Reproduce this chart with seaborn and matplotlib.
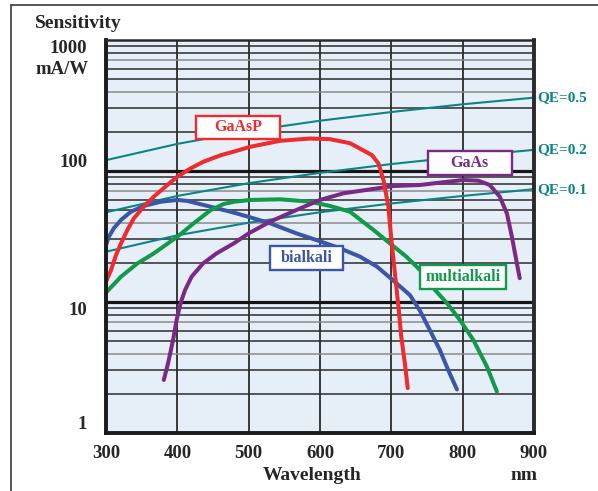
import numpy as np
import pandas as pd
import matplotlib
matplotlib.use("Agg")
import matplotlib.pyplot as plt
import seaborn as sns
from matplotlib.patches import Rectangle
from matplotlib.lines import Line2D
from matplotlib.ticker import NullLocator

# ---- spectral sensitivity curves (wavelength in nm, sensitivity in mA/W) ----
gaasp_wl = [300, 307, 314, 321, 330, 339, 353, 367, 386, 400, 419, 437, 461, 480, 502, 544, 586,
            614, 642, 651, 673, 682, 689, 696, 700, 705, 710, 714, 719, 723]
gaasp_s = [14.3, 17.5, 22.8, 28, 35.5, 43.5, 53.4, 63.7, 78.2, 90.5, 105, 118, 132, 141, 153, 170, 177,
           175, 163, 153.5, 132, 114, 85, 53, 30, 16.6, 9.2, 5.4, 3.4, 2.2]

bialkali_wl = [300, 304, 311, 321, 335, 353, 377, 400, 414, 437, 461, 480, 502, 530, 567, 595, 628,
               656, 680, 702, 726, 740, 754, 768, 780, 792]
bialkali_s = [27.2, 31.5, 36.6, 42.3, 48.9, 54.1, 58.3, 60.1, 59.1, 55, 51, 48, 44.3, 39.9, 33.4, 29.7, 25.7,
              22.2, 18.6, 14.7, 11.3, 8.6, 6.1, 4.3, 3.0, 2.15]

multialkali_wl = [300, 321, 344, 367, 400, 423, 447, 465, 480, 502, 544, 586, 614, 642, 651, 675, 698,
                  721, 740, 761, 778, 796, 815, 834, 848]
multialkali_s = [11.8, 15.6, 19.7, 23.5, 31.5, 39.9, 50.4, 56, 58.3, 60.1, 60.8, 58.3, 54.1, 48.9, 44.8, 35.5, 28,
                 22.2, 17.6, 12.4, 9.8, 7.3, 5.13, 3.21, 2.07]

gaas_wl = [381, 387, 394, 399, 405, 411, 420, 436, 455, 479, 500, 530, 567, 600, 633, 703, 740, 768,
           801, 822, 838, 852, 862, 869, 876, 880]
gaas_s = [2.54, 3.4, 5.13, 7.3, 10, 12.4, 15.6, 19.7, 23.5, 28, 33.4, 41, 50.4, 60.1, 67.6, 76.8, 78.2, 81.5,
          85.4, 84.3, 78.2, 63.7, 47.5, 31.5, 19.7, 15.2]

# ---- constant quantum-efficiency reference lines ----
qe_wl = [300, 400, 500, 600, 700, 800, 900]
qe_05 = [121, 161, 202, 242, 282, 323, 363]
qe_02 = [48.4, 64.5, 80.7, 96.8, 113, 129, 145]
qe_01 = [24.2, 32.3, 40.3, 48.4, 56.5, 64.5, 72.6]

x_ticks = [300, 400, 500, 600, 700, 800, 900]
y_ticks = [1, 10, 100, 1000]
y_tick_labels = ["1", "10", "100", "1000"]

RED = "#ee2b2e"
BLUE = "#3a56a6"
GREEN = "#109a4a"
PURPLE = "#7a2a86"
TEAL = "#0b8584"
BG = "#e6eef8"
DARK = "#2b2b2b"
GREY = "#8a8a8a"

sns.set_style("white")
plt.rcParams["font.family"] = ["Liberation Serif", "DejaVu Serif"]
plt.rcParams["font.weight"] = "bold"

W, H = 598, 491
fig = plt.figure(figsize=(W / 100, H / 100), dpi=100)
fig.patch.set_facecolor("white")


def fx(x):
    return x / W


def fy(y):
    return 1 - y / H


ax = fig.add_axes([fx(106), fy(433), (534 - 106) / W, (433 - 40) / H])
ax.set_facecolor(BG)

# grid: vertical wavelength lines and log-decade lines
for xv in x_ticks[1:-1]:
    ax.axvline(xv, color=DARK, lw=1.3, zorder=1)
for dec in [1, 10, 100]:
    for m in range(2, 10):
        col = GREY if m in (4, 7) else DARK
        ax.axhline(dec * m, color=col, lw=1.1, zorder=1)
for yv in [10, 100]:
    ax.axhline(yv, color="#151515", lw=2.3, zorder=1)

# quantum-efficiency lines
qe_df = pd.concat([
    pd.DataFrame({"wl": qe_wl, "s": vals, "qe": name})
    for name, vals in [("QE=0.5", qe_05), ("QE=0.2", qe_02), ("QE=0.1", qe_01)]
])
sns.lineplot(data=qe_df, x="wl", y="s", hue="qe",
             palette={"QE=0.5": TEAL, "QE=0.2": TEAL, "QE=0.1": TEAL},
             estimator=None, sort=False, lw=1.5, legend=False, ax=ax, zorder=2)

# photocathode sensitivity curves
curves = [
    ("bialkali", bialkali_wl, bialkali_s),
    ("multialkali", multialkali_wl, multialkali_s),
    ("GaAs", gaas_wl, gaas_s),
    ("GaAsP", gaasp_wl, gaasp_s),
]
df = pd.concat([pd.DataFrame({"wl": wl, "s": s, "tube": name}) for name, wl, s in curves])
palette = {"GaAsP": RED, "bialkali": BLUE, "multialkali": GREEN, "GaAs": PURPLE}
sns.lineplot(data=df, x="wl", y="s", hue="tube", palette=palette,
             estimator=None, sort=False, lw=2.9, legend=False, ax=ax, zorder=3)
for line in ax.get_lines()[-4:]:
    line.set_solid_capstyle("round")
    line.set_solid_joinstyle("round")

ax.set_yscale("log")
ax.set_xlim(300, 900)
ax.set_ylim(1, 1000)
ax.yaxis.set_minor_locator(NullLocator())
ax.set_xticks(x_ticks)
ax.set_xticklabels([str(v) for v in x_ticks], fontsize=13.5, fontweight="bold")
ax.set_yticks(y_ticks)
ax.set_yticklabels(y_tick_labels, fontsize=13.5, fontweight="bold")
ax.tick_params(axis="x", length=0, pad=8.5)
ax.tick_params(axis="y", length=0, pad=13.5)
for lab, va in zip(ax.get_yticklabels(), ["bottom", "top", "bottom", "top"]):
    lab.set_va(va)
ax.set_xlabel("")
ax.set_ylabel("")

for side, lw, col in [("left", 2.8, "#1a1a1a"), ("bottom", 2.8, "#1a1a1a"),
                      ("right", 2.8, "#2a2a2a"), ("top", 1.8, "#2a2a2a")]:
    ax.spines[side].set_visible(True)
    ax.spines[side].set_linewidth(lw)
    ax.spines[side].set_color(col)
    ax.spines[side].set_zorder(10)

# boxed curve names
def name_box(x0, x1, y_lo, y_hi, text, color):
    ax.add_patch(Rectangle((x0, y_lo), x1 - x0, y_hi - y_lo, facecolor="white",
                           edgecolor=color, lw=1.7, zorder=5))
    ax.text((x0 + x1) / 2, np.sqrt(y_lo * y_hi), text, color=color, fontsize=11.5,
            fontweight="bold", ha="center", va="center", zorder=6)


name_box(426, 544, 175.6, 263, "GaAsP", RED)
name_box(530, 632, 17.5, 26.8, "bialkali", BLUE)
name_box(740, 861, 12.6, 19.2, "multialkali", GREEN)
name_box(751, 869, 93.2, 142, "GaAs", PURPLE)

# QE labels at the right end of each reference line
for name, vals in [("QE=0.5", qe_05), ("QE=0.2", qe_02), ("QE=0.1", qe_01)]:
    ax.annotate(name, xy=(900, vals[-1]), xytext=(2.5, 0), textcoords="offset points",
                ha="left", va="center", color=TEAL, fontsize=11, fontweight="bold",
                annotation_clip=False)

# axis titles
fig.text(fx(35), fy(23), "Sensitivity", ha="left", va="center", fontsize=14, fontweight="bold")
fig.text(fx(35), fy(70), "mA/W", ha="left", va="center", fontsize=13.5, fontweight="bold")
fig.text(fx(312), fy(475), "Wavelength", ha="center", va="center", fontsize=14, fontweight="bold")
fig.text(fx(524), fy(476), "nm", ha="center", va="center", fontsize=14, fontweight="bold")

# outer frame
fig.add_artist(Line2D([fx(11), fx(11)], [fy(5), 0], color="#3a3a3a", lw=1.2))
fig.add_artist(Line2D([fx(11), 1], [fy(5), fy(5)], color="#3a3a3a", lw=1.2))

fig.savefig("out.png", dpi=100, facecolor="white")
